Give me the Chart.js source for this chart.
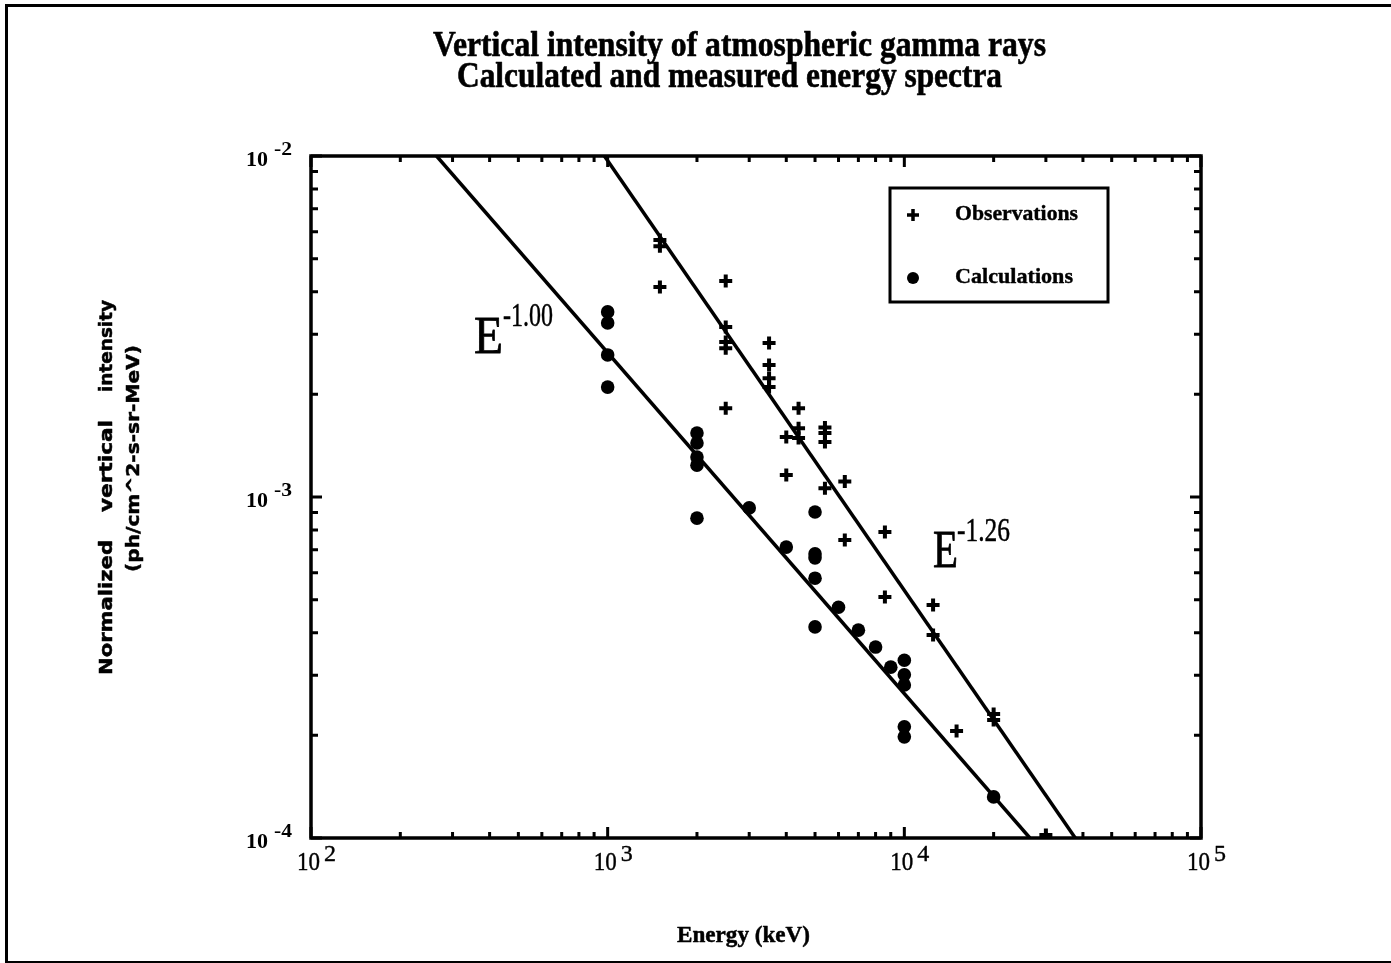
<!DOCTYPE html>
<html>
<head>
<meta charset="utf-8">
<title>Vertical intensity of atmospheric gamma rays</title>
<script src="https://cdn.jsdelivr.net/npm/chart.js@4.4.1/dist/chart.umd.min.js"></script>
<style>
  html, body { margin: 0; padding: 0; background: #fff; overflow: hidden; }
  #frame {
    position: absolute; left: 5px; top: 4px; width: 1420px; height: 954px;
    border-top: 3px solid #000; border-left: 3px solid #000; border-bottom: 2px solid #000;
    pointer-events: none;
  }
  canvas { position: absolute; left: 0; top: 0; }
</style>
</head>
<body>
<div id="frame"></div>
<canvas id="chart" width="1391" height="963"></canvas>
<script>
// ---- Data: photon energy (keV) and normalized vertical intensity (ph/cm^2-s-sr-MeV) ----
const obsEnergy = [1500, 1500, 1500, 2500, 2500, 2500, 2500, 2500, 3500, 3500, 3500, 3500,
                   4000, 4000, 4400, 4400, 4400, 5400, 5400, 5400, 5400, 6300, 6300,
                   8600, 8600, 12500, 12500, 15000, 20000, 20000, 30000];
const obsIntensity = [5.67e-3, 5.44e-3, 4.13e-3, 4.30e-3, 3.15e-3, 2.85e-3, 2.73e-3, 1.82e-3,
                      2.83e-3, 2.44e-3, 2.23e-3, 2.10e-3, 1.50e-3, 1.16e-3, 1.82e-3, 1.59e-3,
                      1.49e-3, 1.60e-3, 1.54e-3, 1.45e-3, 1.06e-3, 1.11e-3, 7.48e-4,
                      7.89e-4, 5.09e-4, 4.82e-4, 3.94e-4, 2.06e-4, 2.31e-4, 2.22e-4, 1.02e-4];

const calcEnergy = [1000, 1000, 1000, 1000, 2000, 2000, 2000, 2000, 2000, 3000, 4000,
                    5000, 5000, 5000, 5000, 5000, 6000, 7000, 8000, 9000,
                    10000, 10000, 10000, 10000, 10000, 20000];
const calcIntensity = [3.49e-3, 3.24e-3, 2.61e-3, 2.10e-3, 1.54e-3, 1.44e-3, 1.31e-3, 1.24e-3, 8.67e-4,
                       9.29e-4, 7.13e-4, 9.04e-4, 6.81e-4, 6.63e-4, 5.78e-4, 4.16e-4,
                       4.75e-4, 4.07e-4, 3.63e-4, 3.17e-4,
                       3.32e-4, 3.01e-4, 2.81e-4, 2.12e-4, 1.98e-4, 1.32e-4];

// Power-law fits I = 1e-2 * (E / E0)^-k : E0 is where each line leaves the top of the plot
const fitExponents = [1.00, 1.26];
const fitTopEnergy = [265, 975];
const fitLabels = ['-1.00', '-1.26'];

// Axis range and decade labels
const xRange = [1e2, 1e5];
const yRange = [1e-4, 1e-2];
const xTickExponents = ['2', '3', '4', '5'];
const yTickExponents = ['-2', '-3', '-4'];

const titleLines = ['Vertical intensity of atmospheric gamma rays', 'Calculated and measured energy spectra'];
const xTitle = 'Energy (keV)';
const yTitleWords = ['Normalized', 'vertical', 'intensity'];
const yTitleUnits = '(ph/cm^2-s-sr-MeV)';
const seriesNames = ['Observations', 'Calculations'];

// ---- Helpers ----
const toPoints = (xs, ys) => xs.map((x, i) => ({ x: x, y: ys[i] }));
function fitLine(k, e0) {
  // endpoints where the line crosses the top and bottom of the intensity range
  const span = Math.log10(yRange[1] / yRange[0]);
  return [{ x: e0, y: yRange[1] }, { x: e0 * Math.pow(10, span / k), y: yRange[0] }];
}

// Draw a string squeezed/stretched to a given width, starting at x (left edge)
function fitText(ctx, text, x, y, width, font, stroke) {
  ctx.save();
  ctx.font = font;
  const w = ctx.measureText(text).width;
  ctx.translate(x, y);
  ctx.scale(width / w, 1);
  ctx.textAlign = 'left';
  ctx.textBaseline = 'alphabetic';
  ctx.fillStyle = '#000';
  ctx.fillText(text, 0, 0);
  if (stroke) {
    ctx.strokeStyle = '#000';
    ctx.lineWidth = stroke;
    ctx.lineJoin = 'round';
    ctx.strokeText(text, 0, 0);
  }
  ctx.restore();
}

const SERIF = '"Liberation Serif", "Times New Roman", serif';
const SANS = '"DejaVu Sans", "Liberation Sans", sans-serif';

// Frame, inward tick marks, labels, legend and annotations
const decorations = {
  id: 'decorations',
  beforeDatasetsDraw(chart) {
    const { ctx, chartArea: a, scales: { x, y } } = chart;
    ctx.save();
    ctx.strokeStyle = '#000';
    ctx.lineCap = 'butt';

    // inward ticks on all four sides
    const tickVals = (lo, hi) => {
      const out = [];
      for (let e = Math.round(Math.log10(lo)); e <= Math.round(Math.log10(hi)); e++) {
        for (let m = 1; m <= 9; m++) {
          const v = m * Math.pow(10, e);
          if (v >= lo * 0.999 && v <= hi * 1.001) out.push({ v: v, major: m === 1 });
        }
      }
      return out;
    };
    ctx.lineWidth = 3;
    tickVals(xRange[0], xRange[1]).forEach(t => {
      const px = x.getPixelForValue(t.v);
      const len = t.major ? 11 : 6;
      ctx.beginPath();
      ctx.moveTo(px, a.bottom); ctx.lineTo(px, a.bottom - len);
      ctx.moveTo(px, a.top); ctx.lineTo(px, a.top + len);
      ctx.stroke();
    });
    tickVals(yRange[0], yRange[1]).forEach(t => {
      const py = y.getPixelForValue(t.v);
      const len = t.major ? 11 : 7;
      ctx.beginPath();
      ctx.moveTo(a.left, py); ctx.lineTo(a.left + len, py);
      ctx.moveTo(a.right, py); ctx.lineTo(a.right - len, py);
      ctx.stroke();
    });

    // plot frame
    ctx.lineWidth = 3.5;
    ctx.strokeRect(a.left, a.top, a.right - a.left, a.bottom - a.top);
    ctx.restore();
  },
  afterDraw(chart) {
    const { ctx, chartArea: a, scales: { x, y } } = chart;
    ctx.save();
    ctx.fillStyle = '#000';

    // title
    fitText(ctx, titleLines[0], 433, 56, 613, 'bold 35px ' + SERIF, 0.6);
    fitText(ctx, titleLines[1], 457, 87, 545, 'bold 35px ' + SERIF, 0.6);

    // x decade labels
    xTickExponents.forEach(ex => {
      const px = x.getPixelForValue(Math.pow(10, Number(ex)));
      fitText(ctx, '10', px - 14, 870, 23, '25px ' + SERIF, 0.4);
      fitText(ctx, ex, px + 13, 861, 12, '23px ' + SERIF, 0.4);
    });
    // y decade labels
    yTickExponents.forEach(ex => {
      const py = y.getPixelForValue(Math.pow(10, Number(ex)));
      fitText(ctx, '10', 246, py + 10, 22, 'bold 22px ' + SERIF);
      fitText(ctx, ex, 274, py - 1, 18, 'bold 19px ' + SERIF);
    });

    // axis titles
    fitText(ctx, xTitle, 677, 942, 133, 'bold 24px ' + SERIF, 0.5);
    ctx.save();
    ctx.translate(112, 0);
    ctx.rotate(-Math.PI / 2);
    // words of the first line laid out bottom-to-top (rotated x = -screen y)
    fitText(ctx, yTitleWords[0], -675, 0, 135, 'bold 18px ' + SANS, 0.5);
    fitText(ctx, yTitleWords[1], -512, 0, 92, 'bold 18px ' + SANS, 0.5);
    fitText(ctx, yTitleWords[2], -392, 0, 92, 'bold 18px ' + SANS, 0.5);
    ctx.restore();
    ctx.save();
    ctx.translate(139, 0);
    ctx.rotate(-Math.PI / 2);
    fitText(ctx, yTitleUnits, -572, 0, 227, 'bold 18px ' + SANS, 0.5);
    ctx.restore();

    // power-law annotations
    fitText(ctx, 'E', 474, 353, 29, '52px ' + SERIF, 0.8);
    fitText(ctx, fitLabels[0], 503, 326, 50, '34px ' + SERIF, 0.5);
    fitText(ctx, 'E', 933, 567, 25, '52px ' + SERIF, 0.8);
    fitText(ctx, fitLabels[1], 957, 541, 53, '34px ' + SERIF, 0.5);

    // legend box
    ctx.strokeStyle = '#000';
    ctx.lineWidth = 3;
    ctx.strokeRect(890, 188, 218, 114);
    ctx.lineWidth = 3.5;
    ctx.beginPath();
    ctx.moveTo(907, 215); ctx.lineTo(919, 215);
    ctx.moveTo(913, 209); ctx.lineTo(913, 221);
    ctx.stroke();
    ctx.beginPath();
    ctx.arc(913, 278, 6, 0, Math.PI * 2);
    ctx.fill();
    fitText(ctx, seriesNames[0], 955, 220, 123, 'bold 22px ' + SERIF, 0.4);
    fitText(ctx, seriesNames[1], 955, 283, 118, 'bold 22px ' + SERIF, 0.4);
    ctx.restore();
  }
};

new Chart(document.getElementById('chart'), {
  type: 'scatter',
  data: {
    datasets: [
      {
        label: seriesNames[0],
        data: toPoints(obsEnergy, obsIntensity),
        pointStyle: 'cross',
        pointRadius: 6.5,
        borderWidth: 4,
        borderColor: '#000',
        backgroundColor: '#000',
        order: 1
      },
      {
        label: seriesNames[1],
        data: toPoints(calcEnergy, calcIntensity),
        pointStyle: 'circle',
        pointRadius: 6.8,
        borderWidth: 0,
        backgroundColor: '#000',
        order: 1
      },
      ...fitExponents.map((k, i) => ({
        label: 'E' + fitLabels[i],
        type: 'line',
        data: fitLine(k, fitTopEnergy[i]),
        borderColor: '#000',
        borderWidth: 3.5,
        pointRadius: 0,
        showLine: true,
        fill: false,
        order: 2
      }))
    ]
  },
  options: {
    responsive: false,
    animation: false,
    devicePixelRatio: 1,
    layout: { padding: { left: 311, right: 190, top: 156, bottom: 125 } },
    plugins: {
      legend: { display: false },
      title: { display: false },
      tooltip: { enabled: false }
    },
    scales: {
      x: {
        type: 'logarithmic', min: xRange[0], max: xRange[1],
        ticks: { display: false },
        grid: { display: false, drawTicks: false },
        border: { display: false },
        afterFit(s) { s.height = 0; }
      },
      y: {
        type: 'logarithmic', min: yRange[0], max: yRange[1],
        ticks: { display: false },
        grid: { display: false, drawTicks: false },
        border: { display: false },
        afterFit(s) { s.width = 0; }
      }
    }
  },
  plugins: [decorations]
});
</script>
</body>
</html>
